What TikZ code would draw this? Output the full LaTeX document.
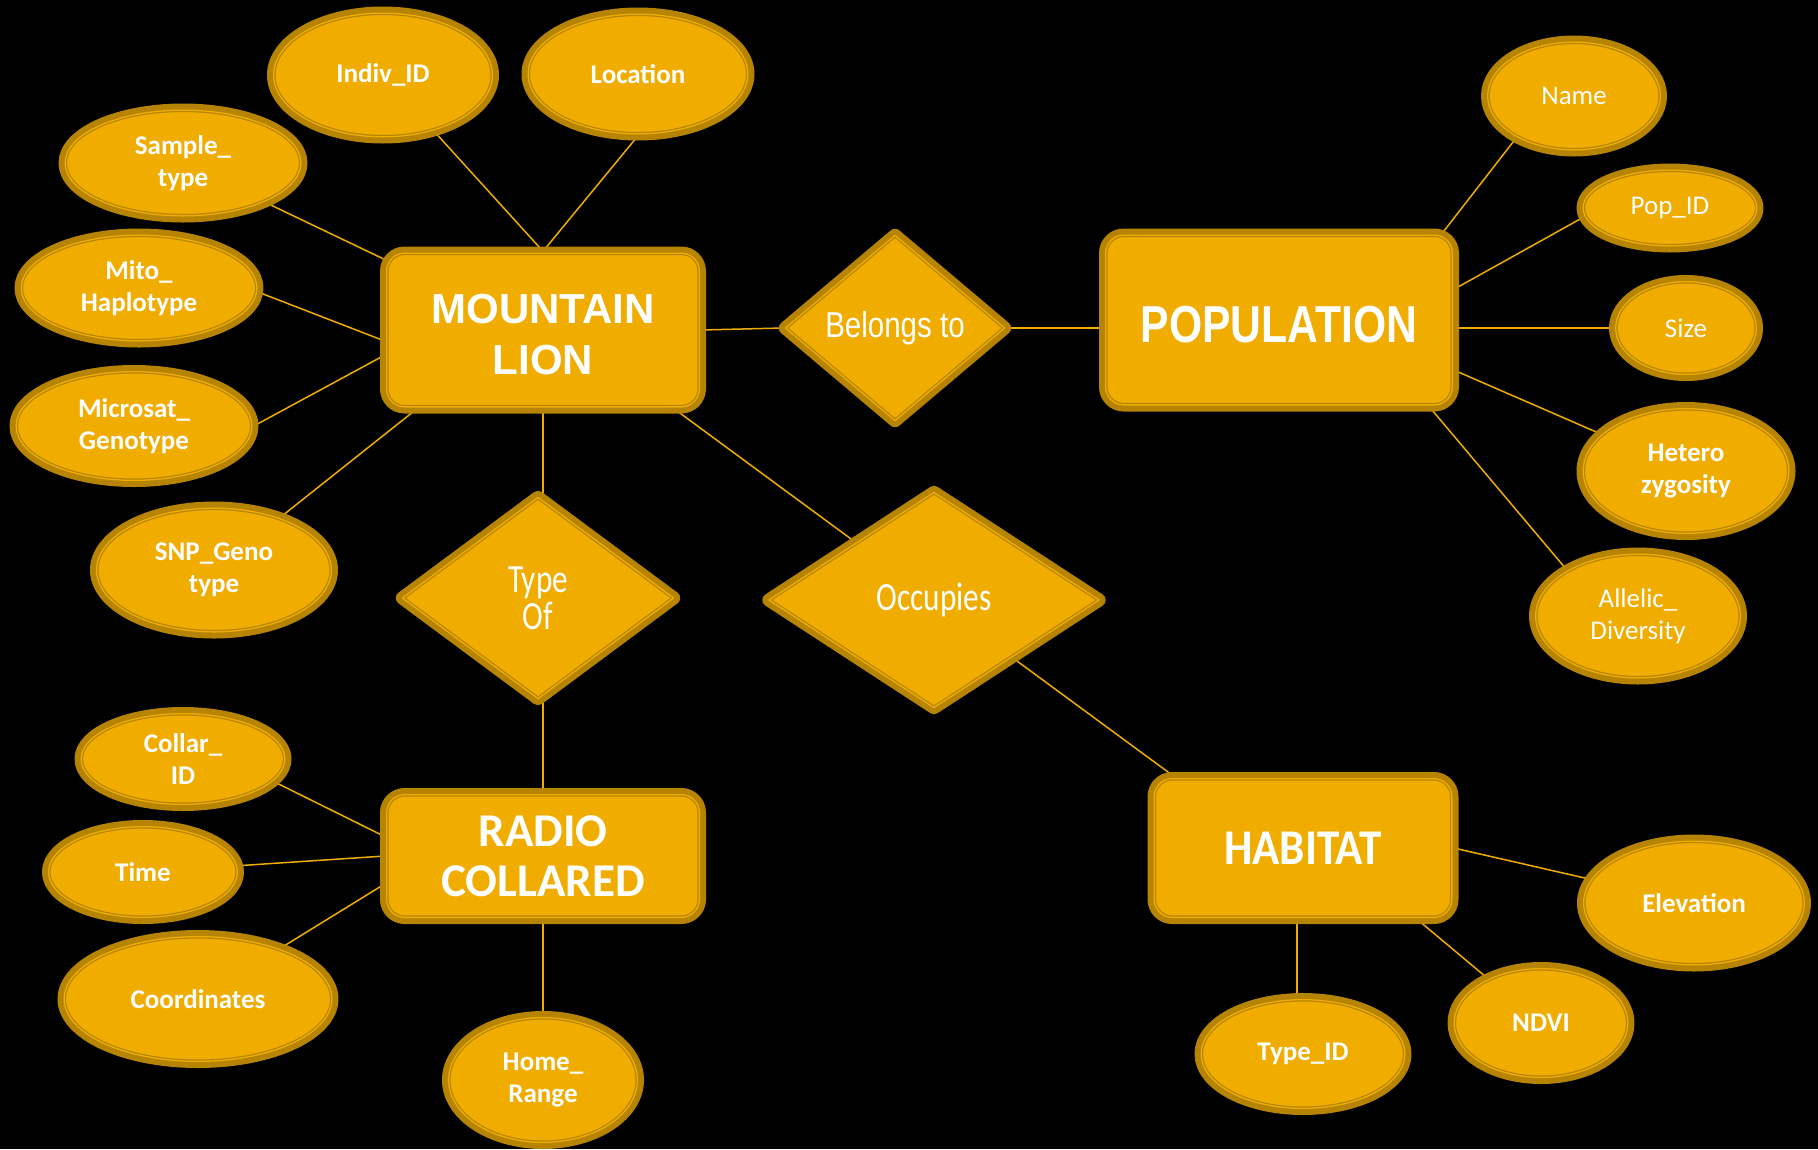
\documentclass[tikz,border=0pt]{standalone}
\usepackage{fontspec}
\setmainfont{Carlito}
\newfontfamily\arialb{Liberation Sans}
\newfontfamily\arialn[FakeStretch=0.82]{Liberation Sans}
\newfontfamily\carln[FakeStretch=0.78]{Carlito}
\newfontfamily\carlh[FakeStretch=0.9]{Carlito}
\usetikzlibrary{shapes.geometric,backgrounds}
\definecolor{gold}{RGB}{240,173,0}
\definecolor{gdark}{RGB}{182,132,0}
\pgfdeclarelayer{bglayer}
\pgfsetlayers{bglayer,main}
\tikzset{
  er/.style={fill=gold, draw=gdark, line width=3.8pt,
    preaction={draw=gdark, line width=13.3pt, line join=round},
    postaction={draw=gold, line width=1.3pt},
    text=white, inner sep=0pt, align=center},
  attr/.style={er, ellipse, font=\fontsize{27}{32}\selectfont\bfseries},
  attrr/.style={er, ellipse, font=\fontsize{27}{32}\selectfont},
  ent/.style={er, rectangle, rounded corners=18pt},
  rel/.style={er, diamond, line join=round},
  conn/.style={draw=gold, line width=1.5pt},
}
\begin{document}
\begin{tikzpicture}[x=1pt,y=-1pt]
\useasboundingbox (0,0) rectangle (1818,1149);
% entities
\node[ent, minimum width=312.7pt, minimum height=153.7pt, font=\arialb\bfseries\fontsize{42}{51}\selectfont] (ML) at (543,330) {\raisebox{-5pt}[\height][\depth]{\parbox{300pt}{\centering MOUNTAIN\\LION}}};
\node[ent, minimum width=346.7pt, minimum height=169.7pt, font=\arialn\bfseries\fontsize{52}{60}\selectfont] (POP) at (1279,320) {\raisebox{-5pt}[\height][\depth]{POPULATION}};
\node[ent, minimum width=312.7pt, minimum height=122.7pt, font=\bfseries\fontsize{47}{50}\selectfont] (RC) at (543,856) {RADIO\\COLLARED};
\node[ent, minimum width=297.7pt, minimum height=138.7pt, font=\carlh\bfseries\fontsize{50}{56}\selectfont] (HAB) at (1303,848) {HABITAT};
% relationships
\node[rel, minimum width=220.7pt, minimum height=186.7pt, font=\arialn\fontsize{36}{40}\selectfont] (Bel) at (895,328) {Belongs to};
\node[rel, minimum width=272.7pt, minimum height=202.7pt, font=\carln\fontsize{40}{37}\selectfont] (TypeOf) at (538,598) {Type\\Of};
\node[rel, minimum width=331.7pt, minimum height=216.7pt, font=\carln\fontsize{40}{44}\selectfont] (Occ) at (934,600) {Occupies};
% attributes
\node[attr, minimum width=218.7pt, minimum height=123.7pt] (Indiv) at (383,75) {Indiv\_ID};
\node[attr, minimum width=219.7pt, minimum height=119.7pt] (Loc) at (638,74) {Location};
\node[attr, minimum width=235.7pt, minimum height=105.7pt] (Sample) at (183,163) {Sample\_\\type};
\node[attr, minimum width=235.7pt, minimum height=105.7pt] (Mito) at (139,288) {Mito\_\\Haplotype};
\node[attr, minimum width=235.7pt, minimum height=108.7pt] (Micro) at (134,426) {Microsat\_\\Genotype};
\node[attr, minimum width=234.7pt, minimum height=123.7pt] (SNP) at (214,570) {SNP\_Geno\\type};
\node[attrr, minimum width=172.7pt, minimum height=107.7pt] (Name) at (1574,96) {Name};
\node[attrr, minimum width=173.7pt, minimum height=75.7pt] (PopID) at (1670,208) {Pop\_ID};
\node[attrr, minimum width=140.7pt, minimum height=92.7pt] (Size) at (1686,328) {Size};
\node[attr, minimum width=205.7pt, minimum height=124.7pt] (Het) at (1686,471) {Hetero\\zygosity};
\node[attrr, minimum width=204.7pt, minimum height=123.7pt] (All) at (1638,616) {Allelic\_\\Diversity};
\node[attr, minimum width=203.7pt, minimum height=90.7pt] (Collar) at (183,759) {Collar\_\\ID};
\node[attr, minimum width=188.7pt, minimum height=90.7pt] (Time) at (143,872) {Time};
\node[attr, minimum width=267.7pt, minimum height=124.7pt] (Coord) at (198,999) {Coordinates};
\node[attr, minimum width=188.7pt, minimum height=124.7pt] (Home) at (543,1080) {Home\_\\Range};
\node[attr, minimum width=220.7pt, minimum height=123.7pt] (Elev) at (1694,903) {Elevation};
\node[attr, minimum width=173.7pt, minimum height=108.7pt] (NDVI) at (1541,1023) {NDVI};
\node[attr, minimum width=203.7pt, minimum height=108.7pt] (TypeID) at (1303,1054) {Type\_ID};
% connectors
\begin{pgfonlayer}{bglayer}
\fill[black] (0,0) rectangle (1818,1149);
\draw[conn] (Indiv) -- (ML.north);
\draw[conn] (Loc.south) -- (ML.north);
\draw[conn] (Sample) -- (ML.156);
\draw[conn] (Mito.358.7) -- (ML.184);
\draw[conn] (Micro.0.8) -- (ML.189.6);
\draw[conn] (SNP) -- (ML.212);
\draw[conn] (ML.east) -- (Bel.west);
\draw[conn] (Bel.east) -- (Bel.east -| POP.west);
\draw[conn] (ML.south) -- (ML.south |- TypeOf.north);
\draw[conn] (RC.north) -- (RC.north |- TypeOf.south);
\draw[conn] (ML.329) -- (Occ);
\draw[conn] (Occ) -- (HAB.151.5);
\draw[conn] (Name.216.7) -- (POP.28.6);
\draw[conn] (PopID.186) -- (POP.10.9);
\draw[conn] (POP.east |- Size) -- (Size);
\draw[conn] (Het) -- (POP.344.4);
\draw[conn] (All.147.4) -- (POP.330.6);
\draw[conn] (Collar.346.8) -- (RC.173.7);
\draw[conn] (Time) -- (RC.180.4);
\draw[conn] (Coord) -- (RC.190);
\draw[conn] (RC.south) -- (Home);
\draw[conn] (Elev) -- (HAB.0);
\draw[conn] (NDVI) -- (HAB.328);
\draw[conn] (HAB.265) -- (HAB.265 |- TypeID.north);
\end{pgfonlayer}
\end{tikzpicture}
\end{document}
